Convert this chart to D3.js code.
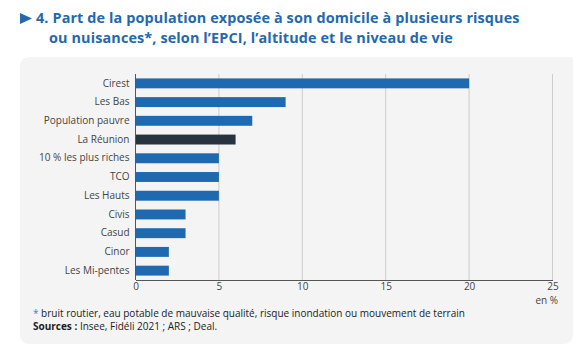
<!DOCTYPE html>
<html><head><meta charset="utf-8">
<script src="https://cdn.jsdelivr.net/npm/d3@7"></script>
<style>body{margin:0;background:#fff;}svg{display:block;font-family:"Open Sans",sans-serif;}</style>
</head><body><svg id="c" width="573" height="355"></svg>
<script>
const categories = ["Cirest","Les Bas","Population pauvre","La Réunion","10 % les plus riches","TCO","Les Hauts","Civis","Casud","Cinor","Les Mi-pentes"];
const values = [20, 9, 7, 6, 5, 5, 5, 3, 3, 2, 2];
const highlight = ["La Réunion"];
const xTicks = [0, 5, 10, 15, 20, 25];

const svg = d3.select("#c");
// panel
svg.append("path")
  .attr("d", "M20,67 Q20,57 30,57 L573,57 L573,334 Q573,344 563,344 L30,344 Q20,344 20,334 Z")
  .attr("fill", "#f4f4f4");

// title
const tcol = "#2468ad";
svg.append("path").attr("d","M20,13 L32,18.5 L20,24 Z").attr("fill", tcol);
svg.append("text").attr("fill", tcol).attr("font-weight", 700).attr("font-size", 14.4).attr("letter-spacing", 0.13)
  .attr("x", 36).attr("y", 23).text("4. Part de la population exposée à son domicile à plusieurs risques");
svg.append("text").attr("fill", tcol).attr("font-weight", 700).attr("font-size", 14.4).attr("letter-spacing", 0.13)
  .attr("x", 49).attr("y", 42.6).text("ou nuisances*, selon l’EPCI, l’altitude et le niveau de vie");

const x = d3.scaleLinear().domain([0, 25]).range([135.5, 552.5]);
const y = d3.scaleBand().domain(categories).range([74, 280]).paddingInner(0.47).paddingOuter(0.235);

// gridlines
svg.append("g").selectAll("line").data(xTicks.filter(d => d > 0)).join("line")
  .attr("x1", d => x(d)).attr("x2", d => x(d)).attr("y1", 74).attr("y2", 280)
  .attr("stroke", "#cccccc").attr("stroke-width", 1);

// bars
svg.append("g").selectAll("rect").data(categories).join("rect")
  .attr("x", x(0)).attr("y", d => y(d)).attr("height", y.bandwidth())
  .attr("width", (d, i) => x(values[i]) - x(0))
  .attr("fill", d => highlight.includes(d) ? "#27343f" : "#1f69b1");

// y axis labels
const yAxis = svg.append("g").attr("transform", `translate(${x(0)},0)`)
  .call(d3.axisLeft(y).tickSize(0).tickPadding(6));
yAxis.select(".domain").attr("stroke", "#555").attr("d", "M0,74V280");
yAxis.selectAll("text").attr("fill", "#444").attr("font-size", 10).attr("font-family", "Open Sans");

// x axis
const xAxis = svg.append("g").attr("transform", "translate(0,280)")
  .call(d3.axisBottom(x).tickValues(xTicks).tickSize(0).tickPadding(3));
xAxis.select(".domain").attr("stroke", "#555");
xAxis.selectAll("text").attr("fill", "#444").attr("font-size", 10).attr("font-family", "Open Sans");

svg.append("text").attr("x", 558).attr("y", 304).attr("text-anchor", "end")
  .attr("font-size", 10).attr("fill", "#444").text("en %");

// footnotes
const f1 = svg.append("text").attr("x", 33).attr("y", 317).attr("font-size", 10).attr("fill", "#222");
f1.append("tspan").attr("fill", "#3a86cc").text("* ");
f1.append("tspan").text("bruit routier, eau potable de mauvaise qualité, risque inondation ou mouvement de terrain");
const f2 = svg.append("text").attr("x", 33).attr("y", 330).attr("font-size", 10).attr("fill", "#222");
f2.append("tspan").attr("font-weight", 700).text("Sources : ");
f2.append("tspan").text("Insee, Fidéli 2021 ; ARS ; Deal.");
</script>
</body></html>
